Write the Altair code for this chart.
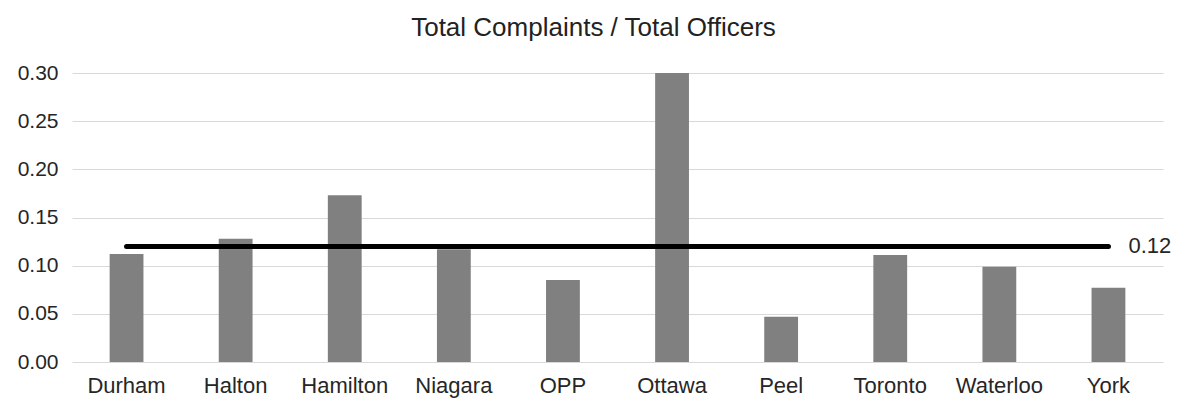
import altair as alt
import pandas as pd

categories = ["Durham", "Halton", "Hamilton", "Niagara", "OPP",
              "Ottawa", "Peel", "Toronto", "Waterloo", "York"]
ratios = [0.112, 0.128, 0.173, 0.117, 0.085, 0.300, 0.047, 0.111, 0.099, 0.077]
average = 0.12
y_ticks = [0.00, 0.05, 0.10, 0.15, 0.20, 0.25, 0.30]
title_text = "Total Complaints / Total Officers"

FONT = "Liberation Sans"
TEXT = "#262626"

df = pd.DataFrame({"region": categories, "ratio": ratios,
                   "avg": [average] * len(categories)})
lbl = pd.DataFrame({"region": [categories[-1]], "avg": [average],
                    "text": [f"{average:.2f}"]})

x_enc = alt.X(
    "region:N", sort=categories,
    scale=alt.Scale(paddingInner=0.69, paddingOuter=0.345),
    axis=alt.Axis(title=None, labelAngle=0, ticks=False, domain=False,
                  labelFontSize=22, labelPadding=13, labelColor=TEXT,
                  labelFont=FONT),
)
y_enc = alt.Y(
    "ratio:Q",
    scale=alt.Scale(domain=[0, 0.30], nice=False),
    axis=alt.Axis(title=None, values=y_ticks, format=".2f", ticks=False,
                  domain=False, grid=True, gridColor="#d9d9d9", gridWidth=1,
                  labelFontSize=21, labelPadding=14, labelColor=TEXT,
                  labelFont=FONT),
)

bars = alt.Chart(df).mark_bar(color="#808080").encode(x=x_enc, y=y_enc)

line = alt.Chart(df).mark_line(color="black", strokeWidth=5, strokeCap="round").encode(
    x=alt.X("region:N", sort=categories),
    y=alt.Y("avg:Q"),
)

label = alt.Chart(lbl).mark_text(align="left", baseline="middle", dx=20,
                                 fontSize=22, font=FONT, color=TEXT).encode(
    x=alt.X("region:N", sort=categories),
    y=alt.Y("avg:Q"),
    text="text:N",
)

chart = alt.layer(bars, line, label).properties(
    width=1091,
    height=289,
    title=alt.TitleParams(title_text, fontSize=26, font=FONT, fontWeight="normal",
                          color="#222222", anchor="middle", baseline="alphabetic",
                          offset=0, dx=-24),
    autosize=alt.AutoSizeParams(type="none"),
    padding={"left": 64, "top": 65, "right": 11, "bottom": 40},
).configure_view(stroke=None)

chart.save("out.html", embed_options={"renderer": "svg", "actions": False})
